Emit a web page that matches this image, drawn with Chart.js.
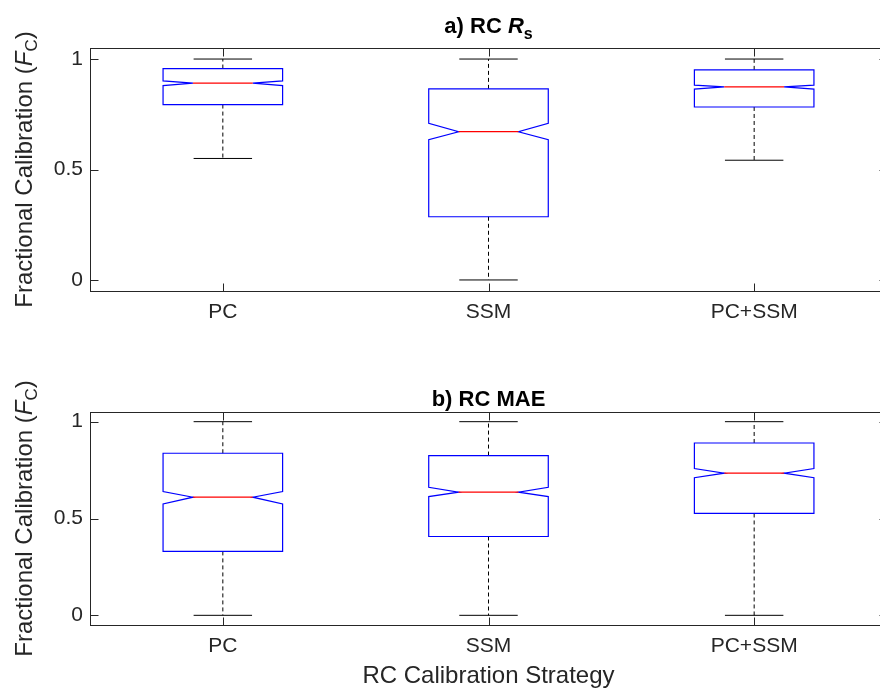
<!DOCTYPE html>
<html>
<head>
<meta charset="utf-8">
<title>RC calibration strategy - notched box plots</title>
<script src="https://cdn.jsdelivr.net/npm/chart.js@4.4.1/dist/chart.umd.min.js"></script>
<style>
    html, body { margin: 0; padding: 0; background: #fff; overflow: hidden; }
    .panel { position: absolute; left: 0; }
    #panelA { top: 0; }
    #panelB { top: 346px; }
</style>
</head>
<body>
<canvas id="panelA" class="panel" width="900" height="346"></canvas>
<canvas id="panelB" class="panel" width="900" height="346"></canvas>
<script>
// Categories and tick values
const categories = ['PC', 'SSM', 'PC+SSM'];
const yTickValues = [0, 0.5, 1];
const yTickLabels = ['0', '0.5', '1'];

// a) RC Rs
const rsWhiskerLow = [0.55, 0.0, 0.542];
const rsQ1 = [0.794, 0.286, 0.783];
const rsNotchLow = [0.880, 0.635, 0.864];
const rsMedian = [0.891, 0.671, 0.874];
const rsNotchHigh = [0.901, 0.709, 0.882];
const rsQ3 = [0.957, 0.865, 0.951];
const rsWhiskerHigh = [1.0, 1.0, 1.0];

// b) RC MAE
const maeWhiskerLow = [0.0, 0.0, 0.0];
const maeQ1 = [0.330, 0.407, 0.526];
const maeNotchLow = [0.575, 0.613, 0.711];
const maeMedian = [0.610, 0.636, 0.734];
const maeNotchHigh = [0.639, 0.661, 0.758];
const maeQ3 = [0.837, 0.825, 0.890];
const maeWhiskerHigh = [1.0, 1.0, 1.0];

const axisColor = '#262626';
const boxColor = '#0000ff';
const medianColor = '#ff0000';
const fontFamily = '"Liberation Sans", Arial, Helvetica, sans-serif';

// widths in x-axis units
const boxHalf = 0.225;
const notchInset = 0.1125;
const capHalf = 0.11;
const tickLen = 8;

// draw a row of text pieces (mixed fonts) centred on x
function drawRich(ctx, parts, x, y) {
    let total = 0;
    parts.forEach(p => {
        ctx.font = p.font;
        p.w = ctx.measureText(p.text).width;
        total += p.w;
    });
    let cx = x - total / 2;
    parts.forEach(p => {
        ctx.font = p.font;
        ctx.fillText(p.text, cx, y + (p.dy || 0));
        cx += p.w;
    });
}

function line(ctx, x1, y1, x2, y2) {
    ctx.beginPath();
    ctx.moveTo(x1, y1);
    ctx.lineTo(x2, y2);
    ctx.stroke();
}

function makePanel(canvasId, stats, titleParts, titleGap, xAxisHeight, topPad, showXLabel) {

    // Notched boxes
    const boxPlugin = {
        id: 'notchBoxes',
        afterDatasetsDraw(chart) {
            const ctx = chart.ctx;
            const xs = chart.scales.x;
            const ys = chart.scales.y;
            const py = v => ys.getPixelForValue(v);
            ctx.save();
            ctx.lineWidth = 1;
            categories.forEach((cat, i) => {
                const pos = i + 1;
                const xc = xs.getPixelForValue(pos);
                const xl = xs.getPixelForValue(pos - boxHalf);
                const xr = xs.getPixelForValue(pos + boxHalf);
                const xnl = xs.getPixelForValue(pos - boxHalf + notchInset);
                const xnr = xs.getPixelForValue(pos + boxHalf - notchInset);
                const cl = xs.getPixelForValue(pos - capHalf);
                const cr = xs.getPixelForValue(pos + capHalf);

                // whiskers
                ctx.strokeStyle = '#000';
                ctx.setLineDash([4, 3]);
                line(ctx, xc, py(stats.q3[i]), xc, py(stats.whiskerHigh[i]));
                line(ctx, xc, py(stats.q1[i]), xc, py(stats.whiskerLow[i]));
                ctx.setLineDash([]);
                line(ctx, cl, py(stats.whiskerHigh[i]), cr, py(stats.whiskerHigh[i]));
                line(ctx, cl, py(stats.whiskerLow[i]), cr, py(stats.whiskerLow[i]));

                // box outline with notch
                ctx.strokeStyle = boxColor;
                ctx.lineWidth = 1.2;
                ctx.beginPath();
                ctx.moveTo(xl, py(stats.q3[i]));
                ctx.lineTo(xr, py(stats.q3[i]));
                ctx.lineTo(xr, py(stats.notchHigh[i]));
                ctx.lineTo(xnr, py(stats.median[i]));
                ctx.lineTo(xr, py(stats.notchLow[i]));
                ctx.lineTo(xr, py(stats.q1[i]));
                ctx.lineTo(xl, py(stats.q1[i]));
                ctx.lineTo(xl, py(stats.notchLow[i]));
                ctx.lineTo(xnl, py(stats.median[i]));
                ctx.lineTo(xl, py(stats.notchHigh[i]));
                ctx.closePath();
                ctx.stroke();

                // median
                ctx.strokeStyle = medianColor;
                line(ctx, xnl, py(stats.median[i]), xnr, py(stats.median[i]));
                ctx.lineWidth = 1;
            });
            ctx.restore();
        }
    };

    // Frame, inward ticks, title and axis labels
    const framePlugin = {
        id: 'matlabFrame',
        afterDraw(chart) {
            const ctx = chart.ctx;
            const area = chart.chartArea;
            const xs = chart.scales.x;
            const ys = chart.scales.y;
            ctx.save();
            ctx.strokeStyle = axisColor;
            ctx.lineWidth = 1;
            const l = Math.round(area.left) + 0.5;
            const r = Math.round(area.right) + 0.5;
            const t = Math.round(area.top) + 0.5;
            const b = Math.round(area.bottom) + 0.5;
            ctx.strokeRect(l, t, r - l, b - t);

            yTickValues.forEach(v => {
                const yy = Math.round(ys.getPixelForValue(v)) + 0.5;
                line(ctx, l, yy, l + tickLen, yy);
                line(ctx, r, yy, r - tickLen, yy);
            });
            categories.forEach((c, i) => {
                const xx = Math.round(xs.getPixelForValue(i + 1)) + 0.5;
                line(ctx, xx, b, xx, b - tickLen);
                line(ctx, xx, t, xx, t + tickLen);
            });

            const cx = (area.left + area.right) / 2;
            const cy = (area.top + area.bottom) / 2;

            // title
            ctx.fillStyle = '#000';
            ctx.textBaseline = 'alphabetic';
            drawRich(ctx, titleParts, cx, area.top - titleGap);

            // y label
            ctx.fillStyle = axisColor;
            ctx.save();
            ctx.translate(32, cy);
            ctx.rotate(-Math.PI / 2);
            drawRich(ctx, [
                { text: 'Fractional Calibration (', font: '24px ' + fontFamily },
                { text: 'F', font: 'italic 24px ' + fontFamily },
                { text: 'C', font: '17px ' + fontFamily, dy: 5 },
                { text: ')', font: '24px ' + fontFamily }
            ], 0, 0);
            ctx.restore();

            // x label
            if (showXLabel) {
                drawRich(ctx, [{ text: 'RC Calibration Strategy', font: '24px ' + fontFamily }],
                    cx, area.bottom + 58);
            }
            ctx.restore();
        }
    };

    return new Chart(document.getElementById(canvasId), {
        type: 'scatter',
        data: { datasets: [] },
        plugins: [boxPlugin, framePlugin],
        options: {
            responsive: false,
            animation: false,
            devicePixelRatio: 1,
            layout: { padding: { left: 0, top: topPad, right: 13, bottom: 0 } },
            plugins: {
                legend: { display: false },
                tooltip: { enabled: false }
            },
            scales: {
                x: {
                    type: 'linear',
                    min: 0.5,
                    max: 3.5,
                    grid: { display: false, drawTicks: false },
                    border: { display: false },
                    afterBuildTicks: scale => {
                        scale.ticks = categories.map((c, i) => ({ value: i + 1 }));
                    },
                    afterFit: scale => { scale.height = xAxisHeight; },
                    ticks: {
                        autoSkip: false,
                        maxRotation: 0,
                        padding: 9,
                        color: axisColor,
                        font: { family: fontFamily, size: 21 },
                        callback: v => categories[Math.round(v) - 1]
                    }
                },
                y: {
                    type: 'linear',
                    min: -0.05,
                    max: 1.05,
                    grid: { display: false, drawTicks: false },
                    border: { display: false },
                    afterBuildTicks: scale => {
                        scale.ticks = yTickValues.map(v => ({ value: v }));
                    },
                    afterFit: scale => { scale.width = 90; },
                    ticks: {
                        padding: 7,
                        color: axisColor,
                        font: { family: fontFamily, size: 21 },
                        callback: v => yTickLabels[yTickValues.indexOf(v)]
                    }
                }
            }
        }
    });
}

const boldFont = 'bold 22px ' + fontFamily;

makePanel('panelA', {
    whiskerLow: rsWhiskerLow, q1: rsQ1, notchLow: rsNotchLow, median: rsMedian,
    notchHigh: rsNotchHigh, q3: rsQ3, whiskerHigh: rsWhiskerHigh
}, [
    { text: 'a) RC ', font: boldFont },
    { text: 'R', font: 'italic ' + boldFont },
    { text: 's', font: 'bold 16px ' + fontFamily, dy: 6 }
], 15, 55, 48, false);

makePanel('panelB', {
    whiskerLow: maeWhiskerLow, q1: maeQ1, notchLow: maeNotchLow, median: maeMedian,
    notchHigh: maeNotchHigh, q3: maeQ3, whiskerHigh: maeWhiskerHigh
}, [
    { text: 'b) RC MAE', font: boldFont }
], 6, 67, 66, true);
</script>
</body>
</html>
